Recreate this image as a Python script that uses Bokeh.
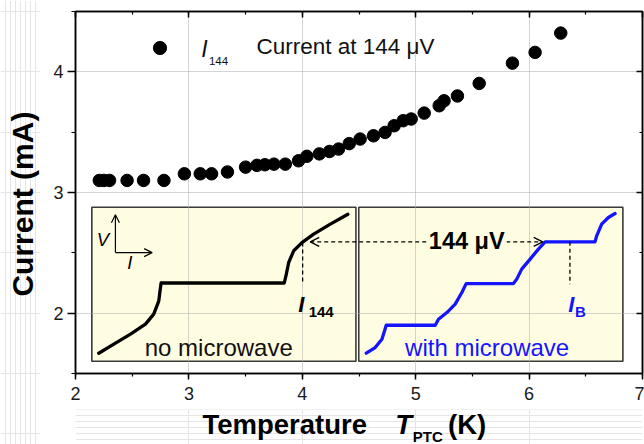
import math

from bokeh.plotting import figure
from bokeh.layouts import row, column
from bokeh.models import (Range1d, LinearAxis, SingleIntervalTicker, Label, Arrow,
                          OpenHead, Legend, LegendItem, CustomJSTickFormatter)
from bokeh.embed import file_html
from bokeh.resources import INLINE

# Current at 144 uV versus PTC temperature
temperature = [2.21, 2.25, 2.30, 2.455, 2.60, 2.78, 2.96, 3.10, 3.20, 3.34,
               3.50, 3.60, 3.67, 3.75, 3.85, 3.967, 4.04, 4.15, 4.24, 4.32,
               4.414, 4.51, 4.628, 4.73, 4.81, 4.89, 4.96, 5.075, 5.207, 5.25,
               5.368, 5.56, 5.853, 6.053, 6.279]
current = [3.10, 3.10, 3.10, 3.10, 3.10, 3.10, 3.155, 3.155, 3.155, 3.17,
           3.21, 3.225, 3.23, 3.235, 3.235, 3.263, 3.30, 3.32, 3.34, 3.36,
           3.405, 3.443, 3.47, 3.498, 3.553, 3.595, 3.609, 3.658, 3.719, 3.76,
           3.80, 3.904, 4.072, 4.161, 4.321]

# Schematic V-I traces drawn inside the two panels
no_mw_x = [2.205, 2.338, 2.485, 2.617, 2.690, 2.734, 2.749, 2.755, 3.841, 3.859,
           3.880, 3.924, 3.997, 4.10, 4.247, 4.402]
no_mw_y = [1.668, 1.743, 1.826, 1.909, 1.992, 2.10, 2.21, 2.25, 2.25, 2.323,
           2.42, 2.517, 2.585, 2.655, 2.738, 2.82]
mw_x = [4.564, 4.643, 4.702, 4.725, 4.740, 5.172, 5.201, 5.275, 5.348, 5.407,
        5.445, 5.862, 5.891, 5.935, 6.009, 6.082, 6.141, 6.581, 6.596, 6.640,
        6.699, 6.758]
mw_y = [1.668, 1.715, 1.784, 1.853, 1.90, 1.90, 1.95, 2.005, 2.075, 2.171,
        2.245, 2.245, 2.282, 2.365, 2.448, 2.531, 2.591, 2.591, 2.641, 2.738,
        2.793, 2.826]

# Panel boxes
panel_left = [2.144, 4.498]
panel_right = [4.473, 6.827]
panel_bottom = [1.602, 1.602]
panel_top = [2.878, 2.878]

# Voltage level of 144 uV and the currents read at it
level_v = 2.591
i144_x = 4.003
ib_x = 6.36
plateau_v = 2.25

FONT = "Liberation Sans"
BLUE = "#1414ff"
PANEL_FILL = "#fffde1"

# frame: 11 px from the top, 36 px above the bottom of a 409 px tall figure
px_per_unit = (409 - 11 - 36) / 3.0
x_range = Range1d(2, 7)

p = figure(width=604, height=409, x_range=x_range, y_range=Range1d(1.5, 4.5),
           output_backend="svg", toolbar_location=None,
           min_border_left=35, min_border_right=2, min_border_top=11,
           min_border_bottom=36, background_fill_color="white",
           border_fill_color="white")
p.outline_line_color = "black"
p.outline_line_width = 1.5

xt = SingleIntervalTicker(interval=1, num_minor_ticks=2)
yt = SingleIntervalTicker(interval=1, num_minor_ticks=2)

for ax in (p.xaxis[0], p.yaxis[0]):
    ax.axis_line_color = "black"
    ax.axis_line_width = 1.5
    ax.major_tick_line_width = 1.5
    ax.minor_tick_line_width = 1.2
    ax.major_tick_in = 0
    ax.minor_tick_in = 0
    ax.major_label_text_font = FONT
    ax.major_label_text_font_size = "18px"
    ax.major_label_text_color = "#1a1a1a"

p.xaxis[0].ticker = xt
p.yaxis[0].ticker = yt
p.xaxis[0].major_tick_out = 6
p.xaxis[0].minor_tick_out = 3
p.xaxis[0].major_label_standoff = 7
p.yaxis[0].major_tick_out = 8
p.yaxis[0].minor_tick_out = 4
p.yaxis[0].major_label_standoff = 4

# mirrored frame axes with inward ticks
blank = CustomJSTickFormatter(code="return ''")
for loc, tk in (("above", xt), ("right", yt)):
    ax = LinearAxis(ticker=tk, formatter=blank, major_label_text_font_size="0px",
                    major_label_standoff=0, major_tick_in=6, major_tick_out=0,
                    minor_tick_in=3, minor_tick_out=0, axis_line_width=1.5,
                    major_tick_line_width=1.5, minor_tick_line_width=1.2)
    p.add_layout(ax, loc)

for g, tk in ((p.xgrid[0], xt), (p.ygrid[0], yt)):
    g.ticker = tk
    g.grid_line_color = "#a8a8a8"
    g.grid_line_dash = "1 1"
    g.grid_line_width = 1

# panel boxes sit below the grid
panels = p.quad(left=panel_left, right=panel_right, bottom=panel_bottom, top=panel_top,
                fill_color=PANEL_FILL, line_color="#3a3a3a", line_width=1.6)
panels.level = "image"

# V-I traces
p.line(no_mw_x, no_mw_y, line_color="black", line_width=3.3, line_join="round",
       line_cap="round")
p.line(mw_x, mw_y, line_color=BLUE, line_width=3.3, line_join="round",
       line_cap="round")

# measured points
pts = p.scatter(temperature, current, size=12.5, fill_color="black", line_color="black")

legend = Legend(items=[LegendItem(label="Current at 144 μV", renderers=[pts])],
                location=(67.5, 309.3), padding=0, margin=0, spacing=0,
                glyph_width=33, glyph_height=33, label_height=33,
                label_standoff=81, border_line_color=None, background_fill_alpha=0,
                label_text_font=FONT, label_text_font_size="22.5px",
                label_text_color="#111111")
p.add_layout(legend)

# dashed guides
p.add_layout(Arrow(x_start=4.07, y_start=level_v, x_end=6.12, y_end=level_v,
                   start=OpenHead(size=9, line_width=1.3, line_color="black"),
                   end=OpenHead(size=9, line_width=1.3, line_color="black"),
                   line_dash="4 3", line_width=1.3, line_color="black"))
p.segment(x0=[i144_x, ib_x], y0=[level_v - 0.006, level_v],
          x1=[i144_x, ib_x], y1=[plateau_v, plateau_v - 0.01],
          line_color="black", line_width=1.3, line_dash="4 3")

# small V / I axis icon
p.add_layout(Arrow(x_start=2.352, y_start=2.502, x_end=2.352, y_end=2.815,
                   end=OpenHead(size=8, line_width=1.2, line_color="black"),
                   line_width=1.2, line_color="black"))
p.add_layout(Arrow(x_start=2.352, y_start=2.502, x_end=2.676, y_end=2.502,
                   end=OpenHead(size=8, line_width=1.2, line_color="black"),
                   line_width=1.2, line_color="black"))


def lab(fig, x, y, text, size, color="black", style="normal", align="left",
        angle=0.0, **kw):
    fig.add_layout(Label(x=x, y=y, text=text, text_font=FONT, text_font_size=size,
                         text_color=color, text_font_style=style, text_align=align,
                         text_baseline="middle", angle=angle, **kw))


lab(p, 2.242, 2.614, "V", "18.5px", style="italic", align="center")
lab(p, 2.48, 2.42, "I", "18.5px", style="italic", align="center")

lab(p, 5.45, 2.595, "144 μV", "23.5px", style="bold", align="center",
    background_fill_color=PANEL_FILL, padding=2)

lab(p, 3.965, 2.07, "I", "22px", style="bold italic")
lab(p, 4.056, 2.013, "144", "15px", style="bold")
lab(p, 6.346, 2.07, "I", "22px", color=BLUE, style="bold italic")
lab(p, 6.405, 2.013, "B", "15px", color=BLUE, style="bold")

lab(p, 3.263, 1.712, "no microwave", "24px", color="#111111", align="center")
lab(p, 5.63, 1.712, "with microwave", "24px", color=BLUE, align="center")

# legend symbol name
lab(p, 3.110, 4.193, "I", "23px", color="#111111", style="italic")
lab(p, 3.177, 4.091, "144", "11.5px", color="#111111")

# x axis title strip, sharing the x scale of the main plot
y_bot_lo = 1.5 - 71 / px_per_unit
y_bot_hi = 1.5 - 36 / px_per_unit
xtitle = figure(width=604, height=35, x_range=x_range,
                y_range=Range1d(y_bot_lo, y_bot_hi), output_backend="svg",
                toolbar_location=None, x_axis_location=None, y_axis_location=None,
                min_border_left=35, min_border_right=2, min_border_top=0,
                min_border_bottom=0, outline_line_color=None)
lab(xtitle, 3.119, 1.074, "Temperature", "27.5px", style="bold")
lab(xtitle, 4.82, 1.074, "T", "27.5px", style="bold italic")
lab(xtitle, 4.975, 0.978, "PTC", "15px", style="bold")
lab(xtitle, 5.285, 1.074, "(K)", "27.5px", style="bold")

# y axis title strip, sharing the y scale of the main plot
y_left_lo = 1.5 - 71 / px_per_unit
y_left_hi = 4.5 + 11 / px_per_unit
ytitle = figure(width=40, height=444, x_range=Range1d(0, 40),
                y_range=Range1d(y_left_lo, y_left_hi), output_backend="svg",
                toolbar_location=None, x_axis_location=None, y_axis_location=None,
                min_border=0, outline_line_color=None)
lab(ytitle, 21.5, 2.904, "Current (mA)", "30px", style="bold", align="center",
    angle=math.pi / 2)

layout = row(ytitle, column(p, xtitle, spacing=0), spacing=0)

open("out.html", "w").write(file_html(layout, INLINE))
